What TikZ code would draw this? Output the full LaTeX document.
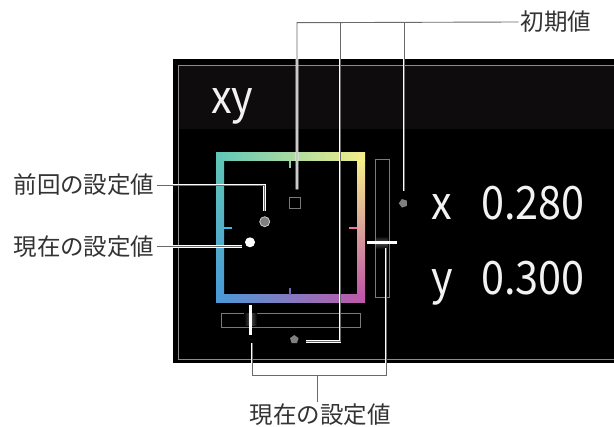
\documentclass[tikz,border=0pt]{standalone}
\usepackage{fontspec}
\setmainfont{Noto Sans CJK JP}
\newfontfamily\scrfont[FakeStretch=0.9]{Noto Sans CJK JP}
\usetikzlibrary{shapes.geometric}
\definecolor{cTL}{HTML}{5FC6B8}
\definecolor{cTM}{HTML}{86D2A2}
\definecolor{cTR}{HTML}{F5EE8A}
\definecolor{cRM}{HTML}{F070B0}
\definecolor{cBR}{HTML}{C058A8}
\definecolor{cBM}{HTML}{7664B4}
\definecolor{cBL}{HTML}{4A9AD8}
\definecolor{cLM}{HTML}{30C0EC}
\definecolor{hdr}{HTML}{0E0C0C}
\definecolor{rimgray}{HTML}{8C8C8C}
\definecolor{slotgray}{HTML}{7A7A7A}
\definecolor{markgray}{HTML}{808080}
\definecolor{knobgray}{HTML}{505050}
\definecolor{leadgray}{HTML}{6A6A6A}
\definecolor{lblgray}{HTML}{333333}
\definecolor{scrwhite}{HTML}{F2F2F2}
\tikzset{
  lbl/.style={font=\fontsize{23.5}{24}\selectfont, text=lblgray, inner sep=2pt},
  scr/.style={font=\scrfont\fontsize{46}{48}\selectfont, text=scrwhite, inner sep=0pt, anchor=base west},
  slot/.style={draw=slotgray, line width=0.8pt, inner sep=0pt},
  knob/.style={fill=white, inner sep=0pt},
  marker/.style={regular polygon, regular polygon sides=5, fill=markgray, inner sep=0pt, minimum size=9pt},
  tick/.style={line width=1.2pt},
  halo/.style={draw=white, line width=2.6pt},
  lead/.style={draw=leadgray, line width=0.9pt},
}

\begin{document}
\begin{tikzpicture}[x=1pt, y=-1pt]
  \useasboundingbox (0,0) rectangle (614,427);
  \fill[white] (0,0) rectangle (614,427);

  % screen
  \fill[black] (173,59) rectangle (614,363);
  \fill[hdr] (178,65) rectangle (614,129);
  \draw[rimgray, line width=0.8pt] (178,65) rectangle (620,359);
  \node[scr] (title) at (211,113.3) {xy};

  % colour frame
  \shade[left color=cTL, middle color=cTM, right color=cTR] (216,153) rectangle (365,161);
  \shade[left color=cBL, middle color=cBM, right color=cBR] (216,295) rectangle (365,303);
  \shade[top color=cTL, middle color=cLM, bottom color=cBL] (216,161) rectangle (224,295);
  \shade[top color=cTR, middle color=cRM, bottom color=cBR] (357,161) rectangle (365,295);
  \draw[tick, cTM] (290,161) -- (290,168);
  \draw[tick, cBM] (290,288) -- (290,295);
  \draw[tick, cLM] (224,228) -- (232,228);
  \draw[tick, cRM] (349,228) -- (357,228);

  % points
  \node[draw=slotgray, line width=1pt, minimum size=11pt, inner sep=0pt] (initsq) at (294.5,203.5) {};
  \node[circle, fill=markgray, draw=gray!40, line width=0.8pt, minimum size=10pt, inner sep=0pt] (prevdot) at (264.7,221.7) {};
  \node[circle, fill=white, minimum size=10pt, inner sep=0pt] (curdot) at (250,242.3) {};

  % sliders
  \node[slot, minimum width=139pt, minimum height=14pt] (hslot) at (290.5,320) {};
  \node[slot, minimum width=14pt, minimum height=138pt] (vslot) at (382,228) {};
  \shade[left color=black, right color=black, middle color=knobgray] (244,314) rectangle (257,326);
  \shade[top color=black, bottom color=black, middle color=knobgray] (376,236) rectangle (388,249);
  \node[knob, minimum width=3pt, minimum height=30pt] (hknob) at (250,320) {};
  \node[knob, minimum width=30pt, minimum height=3pt] (vknob) at (381.7,242.3) {};
  \node[marker] (initx) at (294.3,339.5) {};
  \node[marker, rotate=90] (inity) at (403.3,203.3) {};

  % values
  \node[scr] (xname) at (431,219.3) {x};
  \node[scr] (xval) at (481,219.3) {0.280};
  \node[scr] (yname) at (431,295) {y};
  \node[scr] (yval) at (481,295) {0.300};

  % labels
  \node[lbl] (initlbl) at (556,22) {初期値};
  \node[lbl] (prevlbl) at (84,185) {前回の設定値};
  \node[lbl] (curlbl) at (84,246.5) {現在の設定値};
  \node[lbl] (curlbl2) at (320,415) {現在の設定値};

  \coordinate (j1) at (297,22.7);
  \coordinate (j2) at (340,22.7);
  \coordinate (j2b) at (340,341.5);
  \coordinate (j3) at (404,22.7);
  \coordinate (bl) at (252,375);
  \coordinate (bm) at (317,375);
  \coordinate (br) at (386,375);

  % leaders
  \foreach \ls in {halo,lead}{
    \draw[\ls] (initlbl.west) -- (j1) -- ([yshift=8pt]j1 |- initsq.north);
    \draw[\ls] (j2) -- (j2b) -- ([xshift=8pt]j2b -| initx.east);
    \draw[\ls] (j3) -- ([yshift=12pt]j3 |- inity.center);
    \draw[\ls] (prevlbl.east) -- (prevlbl.east -| prevdot) -- ([yshift=5pt]prevdot.north);
    \draw[\ls] (curlbl.east) -- ([xshift=-3pt]curlbl.east -| curdot.west);
    \draw[\ls] (bm) -- (bm |- curlbl2.north);
    \draw[\ls] ([yshift=-8pt]bl |- hknob.south) -- (bl) -- (br) -- ([yshift=-4.5pt]br |- vknob.south);
  }
\end{tikzpicture}
\end{document}
